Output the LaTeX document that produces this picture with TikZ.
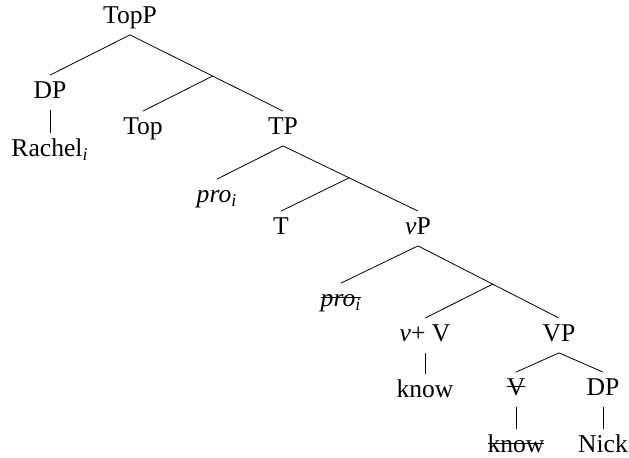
\documentclass[tikz,border=0pt]{standalone}
\usepackage{fontspec}
\setmainfont{Liberation Serif}
\usetikzlibrary{calc}
\newcommand{\idx}[1]{\textsubscript{\textit{#1}}}
\newcommand{\struck}[1]{\sbox0{#1}\rlap{\rule[4.7pt]{\wd0}{0.4pt}}\usebox0}
\begin{document}
\begin{tikzpicture}[x=0.5pt,y=-0.5pt,
    every node/.style={anchor=base,inner sep=3.25pt,text height=8.5pt,text depth=2pt,font=\fontsize{12.8}{15}\selectfont}]
    \useasboundingbox (0,0) rectangle (629,458);
    % labels
    \node (topp) at (130,24) {TopP};
    \node (dpa) at (50,99) {DP};
    \node (rachel) at (50,157) {Rachel\idx{i}};
    \node (top) at (143,135) {Top};
    \node (tp) at (283,135) {TP};
    \node (pro) at (217,203) {\textit{pro}\idx{i}};
    \node (t) at (281,235) {T};
    \node (vp) at (418,235) {\textit{v}P};
    \node (protr) at (341,307) {\struck{\textit{pro}\idx{i}}};
    \node (vv) at (425,342) {\textit{v}+ V};
    \node (vpp) at (559,342) {VP};
    \node (know) at (425,398) {know};
    \node (vtr) at (516,396) {\struck{V}};
    \node (dpb) at (603,396) {DP};
    \node (knowtr) at (516,453) {\struck{know}};
    \node (nick) at (603,453) {Nick};
    % bar levels
    \coordinate (toppbar) at ($(topp.south)!.54!(tp.north)$);
    \coordinate (tpbar) at ($(tp.south)!.49!(vp.north)$);
    \coordinate (vpbar) at ($(vp.south)!.53!(vpp.north)$);
    % branches
    \draw (topp.south)--(dpa.north);
    \draw (topp.south)--(tp.north);
    \draw (toppbar)--(top.north);
    \draw (dpa.south)--(rachel.north);
    \draw (tp.south)--(pro.north);
    \draw (tp.south)--(vp.north);
    \draw (tpbar)--(t.north);
    \draw (vp.south)--(protr.north);
    \draw (vp.south)--(vpp.north);
    \draw (vpbar)--(vv.north);
    \draw (vv.south)--(know.north);
    \draw (vpp.south)--(vtr.north);
    \draw (vpp.south)--(dpb.north);
    \draw (vtr.south)--(knowtr.north);
    \draw (dpb.south)--(nick.north);
\end{tikzpicture}
\end{document}
